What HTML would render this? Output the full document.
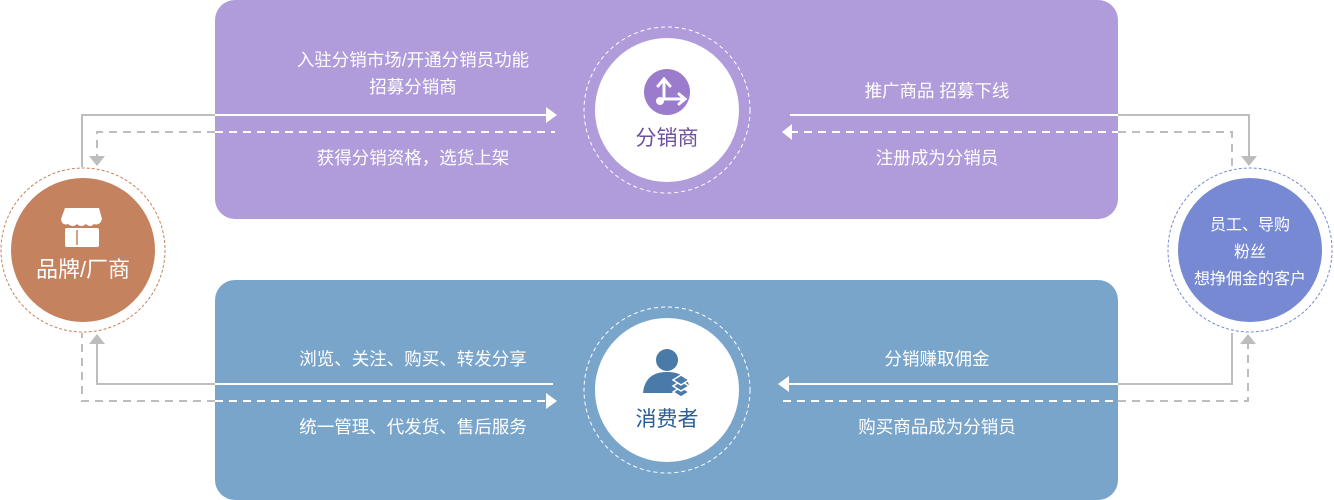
<!DOCTYPE html>
<html><head><meta charset="utf-8"><style>
html,body{margin:0;padding:0;background:#fff;width:1334px;height:500px;overflow:hidden}
svg{display:block}
text{font-family:"Liberation Sans","Noto Sans CJK SC",sans-serif}
</style></head><body>
<svg width="1334" height="500" viewBox="0 0 1334 500" xmlns="http://www.w3.org/2000/svg">
<g stroke="#bdbdbd" stroke-width="2" fill="none">
  <polyline points="215,115 82,115 82,167"/>
  <polyline points="215,132 97,132 97,158" stroke-dasharray="8,6"/>
  <polyline points="1118,115 1249,115 1249,158"/>
  <polyline points="1118,132 1232,132 1232,167" stroke-dasharray="8,6"/>
  <polyline points="215,384 97,384 97,342"/>
  <polyline points="215,401 82,401 82,333" stroke-dasharray="8,6"/>
  <polyline points="1118,384 1232,384 1232,333"/>
  <polyline points="1118,401 1248,401 1248,342" stroke-dasharray="8,6"/>
</g>
<g fill="#bdbdbd">
  <polygon points="89,156 105,156 97,166"/>
  <polygon points="1241,156 1257,156 1249,166"/>
  <polygon points="89,344 105,344 97,334"/>
  <polygon points="1240,344 1256,344 1248,334"/>
</g>
<rect x="215" y="0" width="903" height="219" rx="20" fill="#b09bdb"/>
<rect x="215" y="280" width="903" height="220" rx="20" fill="#7aa5cb"/>
<g stroke="#fff" stroke-width="2" fill="none">
  <line x1="215" y1="115" x2="548" y2="115"/>
  <line x1="215" y1="132" x2="555" y2="132" stroke-dasharray="8,6"/>
  <line x1="790" y1="115" x2="1118" y2="115"/>
  <line x1="790" y1="132" x2="1118" y2="132" stroke-dasharray="8,6"/>
  <line x1="215" y1="384" x2="553" y2="384"/>
  <line x1="215" y1="401" x2="548" y2="401" stroke-dasharray="8,6"/>
  <line x1="788" y1="384" x2="1118" y2="384"/>
  <line x1="783" y1="401" x2="1118" y2="401" stroke-dasharray="8,6"/>
</g>
<g fill="#fff">
  <polygon points="546,107 557,115 546,123"/>
  <polygon points="792,124 782,132 792,140"/>
  <polygon points="546,393 557,401 546,409"/>
  <polygon points="789,376 778,384 789,392"/>
</g>
<g fill="#fff" font-size="17.5" text-anchor="middle">
  <text x="413" y="66">入驻分销市场/开通分销员功能</text>
  <text x="413" y="93">招募分销商</text>
  <text x="413" y="164">获得分销资格，选货上架</text>
  <text x="937" y="97">推广商品 招募下线</text>
  <text x="937" y="164">注册成为分销员</text>
  <text x="413" y="365">浏览、关注、购买、转发分享</text>
  <text x="413" y="433">统一管理、代发货、售后服务</text>
  <text x="937" y="365">分销赚取佣金</text>
  <text x="937" y="433">购买商品成为分销员</text>
</g>
<circle cx="667" cy="110" r="83" fill="none" stroke="#fff" stroke-width="1" stroke-dasharray="4,3"/>
<circle cx="667" cy="110" r="72" fill="#fff"/>
<circle cx="667" cy="92" r="23" fill="#9a7bcc"/>
<g stroke="#fff" stroke-width="3" fill="none" stroke-linecap="round">
  <path d="M664,99 L664,80 M658,86 L664,79 L670,86"/>
  <path d="M664,99 L684,99 M679,94 L685,99 L679,104"/>
</g>
<circle cx="660" cy="101" r="4" fill="#fff"/>
<text x="667" y="145" text-anchor="middle" font-size="21" fill="#6f4fa0">分销商</text>
<circle cx="667" cy="390" r="83" fill="none" stroke="#fff" stroke-width="1" stroke-dasharray="4,3"/>
<circle cx="667" cy="390" r="72" fill="#fff"/>
<circle cx="667" cy="360" r="11" fill="#4a7aa8"/>
<path d="M643,393 Q645,372 667,372 Q685,372 689,385 L680,393 Z" fill="#4a7aa8"/>
<g fill="#4a7aa8" stroke="#fff" stroke-width="1.5">
  <path d="M673,392 l8,-5 l8,5 l-8,5 z"/>
  <path d="M673,386 l8,-5 l8,5 l-8,5 z"/>
  <path d="M673,380 l8,-5 l8,5 l-8,5 z"/>
</g>
<text x="667" y="426" text-anchor="middle" font-size="21" fill="#2a5e95">消费者</text>
<circle cx="83" cy="250" r="82" fill="#fff" stroke="#c4825e" stroke-width="1" stroke-dasharray="3,2"/>
<circle cx="83" cy="250" r="72" fill="#c4825e"/>
<path d="M65,208 L99,208 L102,219 Q100,226 94,224 Q90,228 86,224 Q81,228 77,224 Q73,228 68,224 Q62,226 61,219 Z" fill="#fff"/>
<rect x="65" y="228" width="34" height="19" rx="2" fill="#fff"/>
<line x1="77" y1="230" x2="77" y2="245" stroke="#c4825e" stroke-width="1.5"/>
<text x="83" y="277" text-anchor="middle" font-size="22" fill="#fff">品牌/厂商</text>
<circle cx="1250" cy="250" r="82" fill="#fff" stroke="#7789d3" stroke-width="1" stroke-dasharray="3,2"/>
<circle cx="1250" cy="250" r="72" fill="#7789d3"/>
<g fill="#fff" font-size="16" text-anchor="middle">
  <text x="1250" y="230">员工、导购</text>
  <text x="1250" y="257">粉丝</text>
  <text x="1250" y="284">想挣佣金的客户</text>
</g>
</svg>
</body></html>
